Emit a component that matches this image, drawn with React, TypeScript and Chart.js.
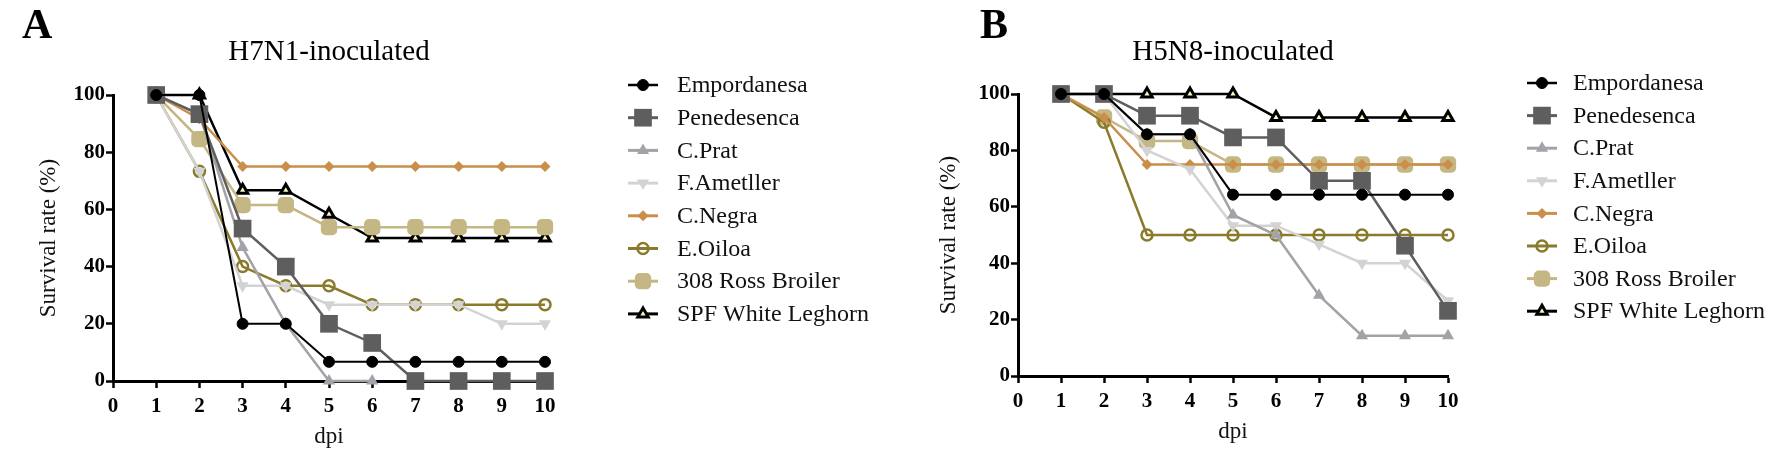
import React, { useEffect, useRef } from "react";
import { Chart, registerables } from "chart.js";
import { drawPoint } from "chart.js/helpers";

Chart.register(...registerables);

const FONT = "'Liberation Serif', 'Times New Roman', serif";

// ---------- data ----------
const days = [1, 2, 3, 4, 5, 6, 7, 8, 9, 10];
const breeds = [
  "Empordanesa",
  "Penedesenca",
  "C.Prat",
  "F.Ametller",
  "C.Negra",
  "E.Oiloa",
  "308 Ross Broiler",
  "SPF White Leghorn",
];
const xTicks = [0, 1, 2, 3, 4, 5, 6, 7, 8, 9, 10];
const yTicks = [0, 20, 40, 60, 80, 100];

// H7N1-inoculated
const h7Empordanesa = [100, 100, 20, 20, 6.7, 6.7, 6.7, 6.7, 6.7, 6.7];
const h7Penedesenca = [100, 93.3, 53.3, 40, 20, 13.3, 0, 0, 0, 0];
const h7CPrat = [100, 93.3, 46.7, 20, 0, 0, null, null, null, null];
const h7FAmetller = [100, 73.3, 33.3, 33.3, 26.7, 26.7, 26.7, 26.7, 20, 20];
const h7CNegra = [100, 91.7, 75, 75, 75, 75, 75, 75, 75, 75];
const h7EOiloa = [100, 73.3, 40, 33.3, 33.3, 26.7, 26.7, 26.7, 26.7, 26.7];
const h7Ross = [100, 84.6, 61.5, 61.5, 53.8, 53.8, 53.8, 53.8, 53.8, 53.8];
const h7SPF = [100, 100, 66.7, 66.7, 58.3, 50, 50, 50, 50, 50];

// H5N8-inoculated
const h5Empordanesa = [100, 100, 85.7, 85.7, 64.3, 64.3, 64.3, 64.3, 64.3, 64.3];
const h5Penedesenca = [100, 100, 92.3, 92.3, 84.6, 84.6, 69.2, 69.2, 46.2, 23.1];
const h5CPrat = [100, 100, 85.7, 85.7, 57.1, 50, 28.6, 14.3, 14.3, 14.3];
const h5FAmetller = [100, 100, 80, 73.3, 53.3, 53.3, 46.7, 40, 40, 26.7];
const h5CNegra = [100, 91.7, 75, 75, 75, 75, 75, 75, 75, 75];
const h5EOiloa = [100, 90, 50, 50, 50, 50, 50, 50, 50, 50];
const h5Ross = [100, 91.7, 83.3, 83.3, 75, 75, 75, 75, 75, 75];
const h5SPF = [100, 100, 100, 100, 100, 91.7, 91.7, 91.7, 91.7, 91.7];

// ---------- styles ----------
const seriesStyles = [
  { color: "#000000", fill: "#000000", point: "circle", radius: 5.5, rotation: 0, lineWidth: 2, pointBorder: 1 },
  { color: "#5e5e5e", fill: "#5e5e5e", point: "rect", radius: 12.5, rotation: 0, lineWidth: 2.5, pointBorder: 0 },
  { color: "#a2a2a8", fill: "#a2a2a8", point: "triangle", radius: 7, rotation: 0, lineWidth: 2.5, pointBorder: 0 },
  { color: "#d3d3d3", fill: "#d3d3d3", point: "triangle", radius: 7, rotation: 180, lineWidth: 2.5, pointBorder: 0 },
  { color: "#c98f4b", fill: "#c98f4b", point: "rectRot", radius: 5.5, rotation: 0, lineWidth: 2.5, pointBorder: 0 },
  { color: "#8a7a2c", fill: "rgba(0,0,0,0)", point: "circle", radius: 5.5, rotation: 0, lineWidth: 2.5, pointBorder: 2.5 },
  { color: "#c4b783", fill: "#c4b783", point: "rectRounded", radius: 9.5, rotation: 0, lineWidth: 2.5, pointBorder: 0 },
  { color: "#000000", fill: "#fff3c4", point: "triangle", radius: 6, rotation: 0, lineWidth: 2.5, pointBorder: 3 },
];

const panels = [
  {
    letter: "A",
    title: "H7N1-inoculated",
    series: [h7Empordanesa, h7Penedesenca, h7CPrat, h7FAmetller, h7CNegra, h7EOiloa, h7Ross, h7SPF],
    left: 0,
    axisLeft: 113,
    axisRight: 545,
    top: 95,
    bottom: 381,
    yTitlePad: 35,
    xTitlePad: 5,
    letterX: 22,
    legendLineX: 628,
    legendTextX: 677,
    legendY0: 85,
    legendStep: 32.7,
  },
  {
    letter: "B",
    title: "H5N8-inoculated",
    series: [h5Empordanesa, h5Penedesenca, h5CPrat, h5FAmetller, h5CNegra, h5EOiloa, h5Ross, h5SPF],
    left: 885,
    axisLeft: 133,
    axisRight: 563,
    top: 94,
    bottom: 376,
    yTitlePad: 50,
    xTitlePad: 10,
    letterX: 95,
    legendLineX: 642,
    legendTextX: 688,
    legendY0: 83,
    legendStep: 32.6,
  },
];

const W = 885;
const H = 456;

function buildDatasets(series: (number | null)[][]) {
  return series.map((vals, i) => {
    const s = seriesStyles[i];
    return {
      label: breeds[i],
      data: days.map((d, j) => ({ x: d, y: vals[j] })),
      borderColor: s.color,
      backgroundColor: s.fill,
      borderWidth: s.lineWidth,
      pointStyle: s.point,
      pointRadius: s.radius,
      pointHoverRadius: s.radius,
      pointRotation: s.rotation,
      pointBackgroundColor: s.fill,
      pointBorderColor: s.color,
      pointBorderWidth: s.pointBorder,
      tension: 0,
      clip: false,
      spanGaps: false,
      fill: false,
    };
  });
}

function Panel({ cfg }: { cfg: any }) {
  const ref = useRef<HTMLCanvasElement | null>(null);
  useEffect(() => {
    if (!ref.current) return;
    const decor = {
      id: "decor" + cfg.letter,
      afterDraw(chart: any) {
        const ctx = chart.ctx;
        const { left, right } = chart.chartArea;
        ctx.save();
        ctx.fillStyle = "#000";
        ctx.textAlign = "left";
        ctx.textBaseline = "alphabetic";
        ctx.font = `bold 42px ${FONT}`;
        ctx.fillText(cfg.letter, cfg.letterX, 38);
        ctx.font = `29px ${FONT}`;
        ctx.textAlign = "center";
        ctx.fillText(cfg.title, (left + right) / 2, 60);
        // legend
        chart.data.datasets.forEach((ds: any, i: number) => {
          const y = cfg.legendY0 + i * cfg.legendStep;
          ctx.strokeStyle = ds.borderColor;
          ctx.lineWidth = ds.borderWidth + 0.5;
          ctx.beginPath();
          ctx.moveTo(cfg.legendLineX, y);
          ctx.lineTo(cfg.legendLineX + 30, y);
          ctx.stroke();
          ctx.fillStyle = ds.pointBackgroundColor;
          ctx.strokeStyle = ds.pointBorderColor;
          ctx.lineWidth = ds.pointBorderWidth;
          drawPoint(
            ctx,
            {
              pointStyle: ds.pointStyle,
              rotation: ds.pointRotation,
              radius: ds.pointRadius,
              borderWidth: ds.pointBorderWidth,
            } as any,
            cfg.legendLineX + 15,
            y
          );
          ctx.fillStyle = "#111";
          ctx.textAlign = "left";
          ctx.textBaseline = "middle";
          ctx.font = `24px ${FONT}`;
          ctx.fillText(ds.label, cfg.legendTextX, y + 1);
        });
        ctx.restore();
      },
    };
    const tickFont = { family: FONT, size: 21, weight: "bold" as const };
    const titleFont = { family: FONT, size: 23, weight: "normal" as const };
    const chart = new Chart(ref.current, {
      type: "line",
      data: { datasets: buildDatasets(cfg.series) as any },
      options: {
        animation: false,
        responsive: false,
        devicePixelRatio: 1,
        layout: {
          padding: { left: 0, top: cfg.top, right: W - cfg.axisRight, bottom: 0 },
        },
        plugins: {
          legend: { display: false },
          title: { display: false },
          tooltip: { enabled: false },
        },
        scales: {
          x: {
            type: "linear",
            min: 0,
            max: 10,
            afterFit: (s: any) => {
              s.height = H - cfg.bottom;
            },
            afterBuildTicks: (s: any) => {
              s.ticks = xTicks.map((v) => ({ value: v }));
            },
            ticks: {
              color: "#000",
              font: tickFont,
              padding: 6,
              maxRotation: 0,
              autoSkip: false,
            },
            grid: {
              display: true,
              drawOnChartArea: false,
              drawTicks: true,
              tickLength: 7,
              tickWidth: 2.5,
              tickColor: "#000",
            },
            border: { display: true, color: "#000", width: 3 },
            title: {
              display: true,
              text: "dpi",
              color: "#111",
              font: titleFont,
              padding: { top: 0, bottom: cfg.xTitlePad },
            },
          },
          y: {
            type: "linear",
            min: 0,
            max: 100,
            afterFit: (s: any) => {
              s.width = cfg.axisLeft;
            },
            afterBuildTicks: (s: any) => {
              s.ticks = yTicks.map((v) => ({ value: v }));
            },
            ticks: {
              color: "#000",
              font: tickFont,
              padding: 1,
            },
            grid: {
              display: true,
              drawOnChartArea: false,
              drawTicks: true,
              tickLength: 7,
              tickWidth: 2.5,
              tickColor: "#000",
            },
            border: { display: true, color: "#000", width: 3 },
            title: {
              display: true,
              text: "Survival rate (%)",
              color: "#111",
              font: titleFont,
              padding: { top: cfg.yTitlePad, bottom: 0 },
            },
          },
        },
      },
      plugins: [decor],
    });
    return () => chart.destroy();
  }, [cfg]);
  return (
    <canvas
      ref={ref}
      width={W}
      height={H}
      style={{ position: "absolute", left: cfg.left, top: 0, width: W, height: H, display: "block" }}
    />
  );
}

export default function App() {
  return (
    <div style={{ position: "absolute", left: 0, top: 0, width: 1770, height: 456, background: "#fff" }}>
      {panels.map((p) => (
        <Panel key={p.letter} cfg={p} />
      ))}
    </div>
  );
}
